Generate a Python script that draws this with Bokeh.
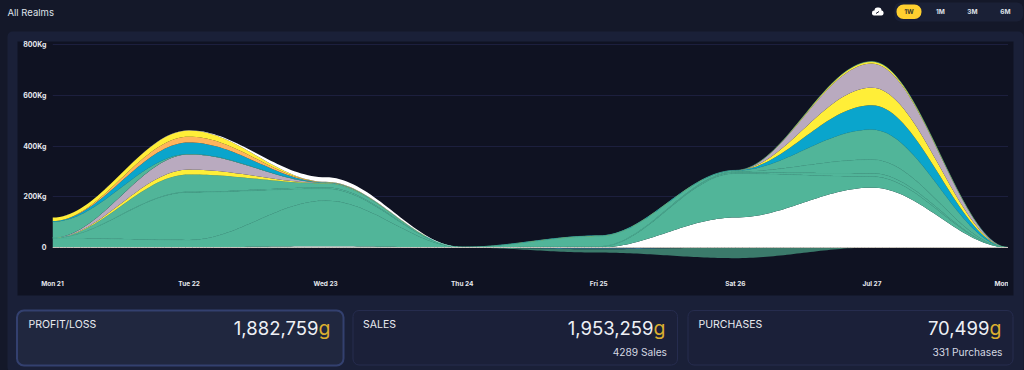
from bokeh.plotting import figure
from bokeh.models import Range1d, FixedTicker
from bokeh.core.properties import value
from bokeh.embed import file_html
from bokeh.resources import INLINE

days = ["Mon 21", "Tue 22", "Wed 23", "Thu 24", "Fri 25", "Sat 26", "Jul 27", "Mon"]
y_ticks = [0, 200, 400, 600, 800]
y_tick_labels = ["0", "200Kg", "400Kg", "600Kg", "800Kg"]

white_low  = [0, 1, 5, 0, 0, 118, 236, 0]
green_a    = [38, 29, 180, 1, 3, 174, 44, 0]
green_b    = [0, 188, 47, 0, 1, 4, 13, 0]
green_c    = [0, 2, 5, 0, 1, 3, 54, 0]
green_e    = [0, 68, 16, 0, 40, 4, 118, 0]
blue_sun   = [0, 0, 0, 0, 0, 1, 96, 0]
yellow_sun = [0, 0, 0, 0, 0, 0, 69, 0]
gray_sun   = [0, 0, 0, 0, 0, 0, 95, 0]
yellow_tue = [0, 19, 1, 0, 1, 0, 8, 0]
gray_tue   = [0, 60, 1, 0, 0, 0, 0, 0]
green_d    = [64, 2, 1, 0, 0, 0, 0, 0]
blue_tue   = [2, 45, 1, 0, 1, 0, 0, 0]
orange_tue = [0, 23, 1, 0, 0, 0, 0, 0]
yellow_top = [14, 24, 1, 0, 0, 0, 0, 0]
white_top  = [0, 1, 18, 0, 0, 0, 0, 0]

gray_neg = [0, 0, 0, 0, -3, 0, 0, 0]
blue_neg = [0, 0, 0, 0, -4, 0, 0, 0]
teal_neg = [0, 0, 0, 0, -13, -42, 0, 0]

GREEN, BLUE, YELLOW, ORANGE, GRAY, WHITE = "#51b599", "#0aa5cc", "#ffee38", "#ffb45c", "#b9aabf", "#ffffff"
positive = [
    (white_low, WHITE), (green_a, GREEN), (green_b, GREEN), (green_c, GREEN), (green_e, GREEN),
    (blue_sun, BLUE), (yellow_sun, YELLOW), (gray_sun, GRAY), (yellow_tue, YELLOW), (gray_tue, GRAY),
    (green_d, GREEN), (blue_tue, BLUE), (orange_tue, ORANGE), (yellow_top, YELLOW), (white_top, WHITE),
]
negative = [(gray_neg, "#8d8a96"), (blue_neg, "#2e6f88"), (teal_neg, "#3b7a6b")]

PAGE, PANEL, CHART = "#141829", "#1a2038", "#0f1222"

# ---- Page furniture: a figure whose frame is the whole window, in pixels of the picture.
# Both canvases start one pixel outside the window so that their edges do not show.
bg = figure(width=1026, height=372, x_range=Range1d(-1, 1025), y_range=Range1d(371, -1),
            min_border=0, x_axis_location=None, y_axis_location=None,
            output_backend="svg", toolbar_location=None, margin=(-1, 0, 0, -1))
bg.grid.visible = False
bg.outline_line_color = None
bg.background_fill_color = PAGE
bg.border_fill_color = PAGE


def box(l, r, t, b, fill, radius=0, line=None, lw=1):
    bg.quad(left=[l], right=[r], top=[t], bottom=[b], fill_color=fill, line_color=line, line_width=lw,
            border_radius=radius)


def label(x, y, text, size, color, align="left", style="normal", font="Inter"):
    bg.text(x=[x], y=[y], text=[text], text_color=color, text_font=value(font),
            text_font_size=f"{size}px", text_font_style=style, text_align=align, text_baseline="middle")


box(7, 1023, 31, 372, PANEL, radius=5)
box(17, 1013, 41, 295, CHART)
box(16.5, 343, 310, 365, "#20273f", radius=7, line="#33406f", lw=2)
box(352.5, 677, 310, 364.5, "#1b2039", radius=6, line="#262c4e")
box(687.5, 1012.5, 310, 364.5, "#1b2039", radius=6, line="#262c4e")
box(894, 1022.5, 2, 21, "#1a2036", radius=6)
box(896, 921, 4, 18.5, "#ffd02f", radius=7)
box(871.5, 883, 10, 15, WHITE, radius=2)
box(874, 881, 7, 13, WHITE, radius=3)
bg.line([875.5, 878.5], [13, 11], line_color=PAGE, line_width=1)

label(7, 11.5, "All Realms", 9.5, "#dfe2ea")
for cx, t, c in [(908.5, "1W", "#3b3a2c"), (940, "1M", "#dfe2ea"), (972, "3M", "#dfe2ea"), (1005, "6M", "#dfe2ea")]:
    label(cx, 11, t, 6.5, c, "center", "bold")

label(28, 323.5, "PROFIT/LOSS", 10.5, "#e9ebf1")
label(362.5, 323.5, "SALES", 10.5, "#e9ebf1")
label(698, 323.5, "PURCHASES", 10.5, "#e9ebf1")
label(318, 327.5, "1,882,759", 18.5, "#eef0f5", "right")
label(653, 327.5, "1,953,259", 18.5, "#eef0f5", "right")
label(989, 327.5, "70,499", 18.5, "#eef0f5", "right")
for x in (318, 653, 989):
    label(x, 327.5, "g", 19.5, "#dcae2f")
label(666.5, 351, "4289 Sales", 10.2, "#d5d8e2", "right")
label(1002, 351, "331 Purchases", 10.2, "#d5d8e2", "right")

# ---- The chart, laid over the furniture on a transparent canvas that ends at the plot's right edge
L, R, T, B = 52, 1008, 40, 270
ZERO, PX_PER_KG = 247, 0.2537

p = figure(width=R + 1, height=372, frame_width=R - L, frame_height=B - T,
           min_border_left=L + 1, min_border_right=0, min_border_top=T + 1, min_border_bottom=371 - B,
           x_range=Range1d(0, 7), y_range=Range1d((ZERO - B) / PX_PER_KG, (ZERO - T) / PX_PER_KG),
           output_backend="svg", toolbar_location=None, margin=(-372, 0, 0, -1))
p.background_fill_color = None
p.border_fill_color = None
p.outline_line_color = None

p.xgrid.visible = False
p.ygrid.ticker = FixedTicker(ticks=y_ticks)
p.ygrid.grid_line_color = "#1c1f3e"
p.ygrid.grid_line_width = 1

for ax in (p.xaxis[0], p.yaxis[0]):
    ax.axis_line_color = None
    ax.major_tick_line_color = None
    ax.minor_tick_line_color = None
    ax.major_tick_out = 0
    ax.major_tick_in = 0
    ax.major_label_text_color = "#e6e8ee"
    ax.major_label_text_font = "Inter"
    ax.major_label_text_font_size = "6.5px"
    ax.major_label_text_font_style = "bold"
p.yaxis[0].major_label_text_font_size = "7px"
p.yaxis[0].ticker = FixedTicker(ticks=y_ticks)
p.yaxis[0].major_label_overrides = dict(zip(y_ticks, y_tick_labels))
p.yaxis[0].major_label_standoff = 6
p.xaxis[0].ticker = FixedTicker(ticks=list(range(len(days))))
p.xaxis[0].major_label_overrides = dict(enumerate(days))
p.xaxis[0].major_label_standoff = 9


# The source draws each series as cubic segments that leave every daily value horizontally.
def curve(values, steps=40):
    xs, ys = [], []
    for i in range(len(values) - 1):
        x0, x3, y0, y3 = i, i + 1, values[i], values[i + 1]
        x1, x2 = x0 + 0.35, x3 - 0.35
        for k in range(steps + (i == len(values) - 2)):
            t = k / steps
            u = 1 - t
            xs.append(u**3 * x0 + 3 * u * u * t * x1 + 3 * u * t * t * x2 + t**3 * x3)
            ys.append(u**3 * y0 + 3 * u * u * t * y0 + 3 * u * t * t * y3 + t**3 * y3)
    return xs, ys


def stack(layers):
    base = [0] * len(days)
    for values, color in layers:
        top = [a + b for a, b in zip(base, values)]
        xs, low = curve(base)
        _, high = curve(top)
        p.varea(x=xs, y1=low, y2=high, fill_color=color)
        if color == GREEN:
            p.line(xs, high, line_color="#4aa88e", line_width=0.6)
        base = top


stack(positive)
stack(negative)
p.line(*curve([0] * len(days)), line_color="#c9c4bc", line_width=1)

html = file_html([bg, p], INLINE)
html = html.replace("</head>", "<style>html,body{overflow:hidden}</style></head>")
open("out.html", "w").write(html)
